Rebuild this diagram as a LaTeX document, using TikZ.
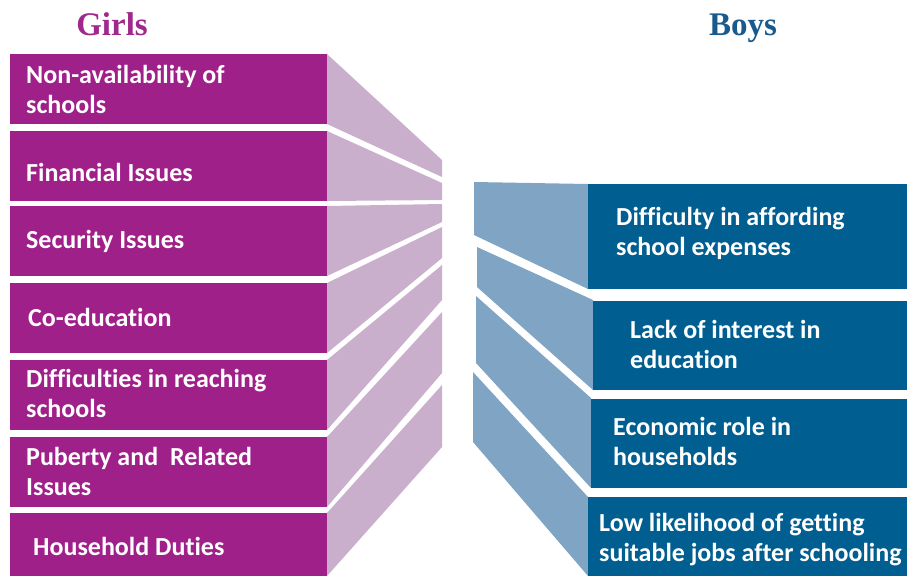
\documentclass[tikz,border=0pt]{standalone}
\usepackage{fontspec}
\setmainfont{Carlito}[RawFeature={-liga;-clig;-dlig}]
\newfontfamily\titlefont{Liberation Serif}
\definecolor{gbox}{RGB}{160,32,138}
\definecolor{gtrap}{RGB}{201,175,204}
\definecolor{bbox}{RGB}{0,94,144}
\definecolor{btrap}{RGB}{127,164,196}
\definecolor{gtitle}{RGB}{160,40,140}
\definecolor{btitle}{RGB}{25,90,140}
\begin{document}
\begin{tikzpicture}[x=1pt,y=-1pt,
  lbl/.style={anchor=base west,inner sep=0pt,text=white,align=left,
    font=\fontsize{26}{29.5}\selectfont\bfseries},
  ttl/.style={anchor=base,inner sep=0pt,font=\titlefont\fontsize{33}{36}\selectfont\bfseries}]
\useasboundingbox (0,0) rectangle (907,576);
% girls boxes
\foreach \t/\b in {54/124,131/201,206/276,283/353,360/430,437/507,513/576}
  \fill[gbox] (10,\t) rectangle (327,\b);
% girls trapezoids
\foreach \lt/\lb/\rt/\rb in {54/124/160/177,131/201/183/200,206/276/204/222,283/353/227/258,360/430/265/300,437/507/312/373,513/576/385/447}
  \fill[gtrap] (327,\lt) -- (442,\rt) -- (442,\rb) -- (327,\lb) -- cycle;
% boys trapezoids
\fill[btrap] (474,182) -- (588,184) -- (588,289) -- (474,235) -- cycle;
\fill[btrap] (477,247) -- (593,300) -- (593,390) -- (477,287) -- cycle;
\fill[btrap] (476,296) -- (591,398) -- (591,488) -- (476,363) -- cycle;
\fill[btrap] (473,372) -- (588,497) -- (588,576) -- (473,442) -- cycle;
% boys boxes
\fill[bbox] (588,184) rectangle (907,289);
\fill[bbox] (593,301) rectangle (907,390);
\fill[bbox] (591,399) rectangle (907,488);
\fill[bbox] (588,497) rectangle (907,576);
% titles
\node[ttl,text=gtitle] (girls) at (112,35) {Girls};
\node[ttl,text=btitle] (boys) at (743,35) {Boys};
% girls labels (base = last line)
\node[lbl] (g1) at (26,113) {Non-availability of\\schools};
\node[lbl] (g2) at (26,181) {Financial Issues};
\node[lbl] (g3) at (26,248) {Security Issues};
\node[lbl] (g4) at (28,326) {Co-education};
\node[lbl] (g5) at (26,417) {Difficulties in reaching\\schools};
\node[lbl] (g6) at (26,495) {Puberty and\ \ Related\\Issues};
\node[lbl] (g7) at (33,555) {Household Duties};
% boys labels
\node[lbl] (b1) at (616,255) {Difficulty in affording\\school expenses};
\node[lbl] (b2) at (630,368) {Lack of interest in\\education};
\node[lbl] (b3) at (613,465) {Economic role in\\households};
\node[lbl] (b4) at (599,561) {Low likelihood of getting\\suitable jobs after schooling};
\end{tikzpicture}
\end{document}
